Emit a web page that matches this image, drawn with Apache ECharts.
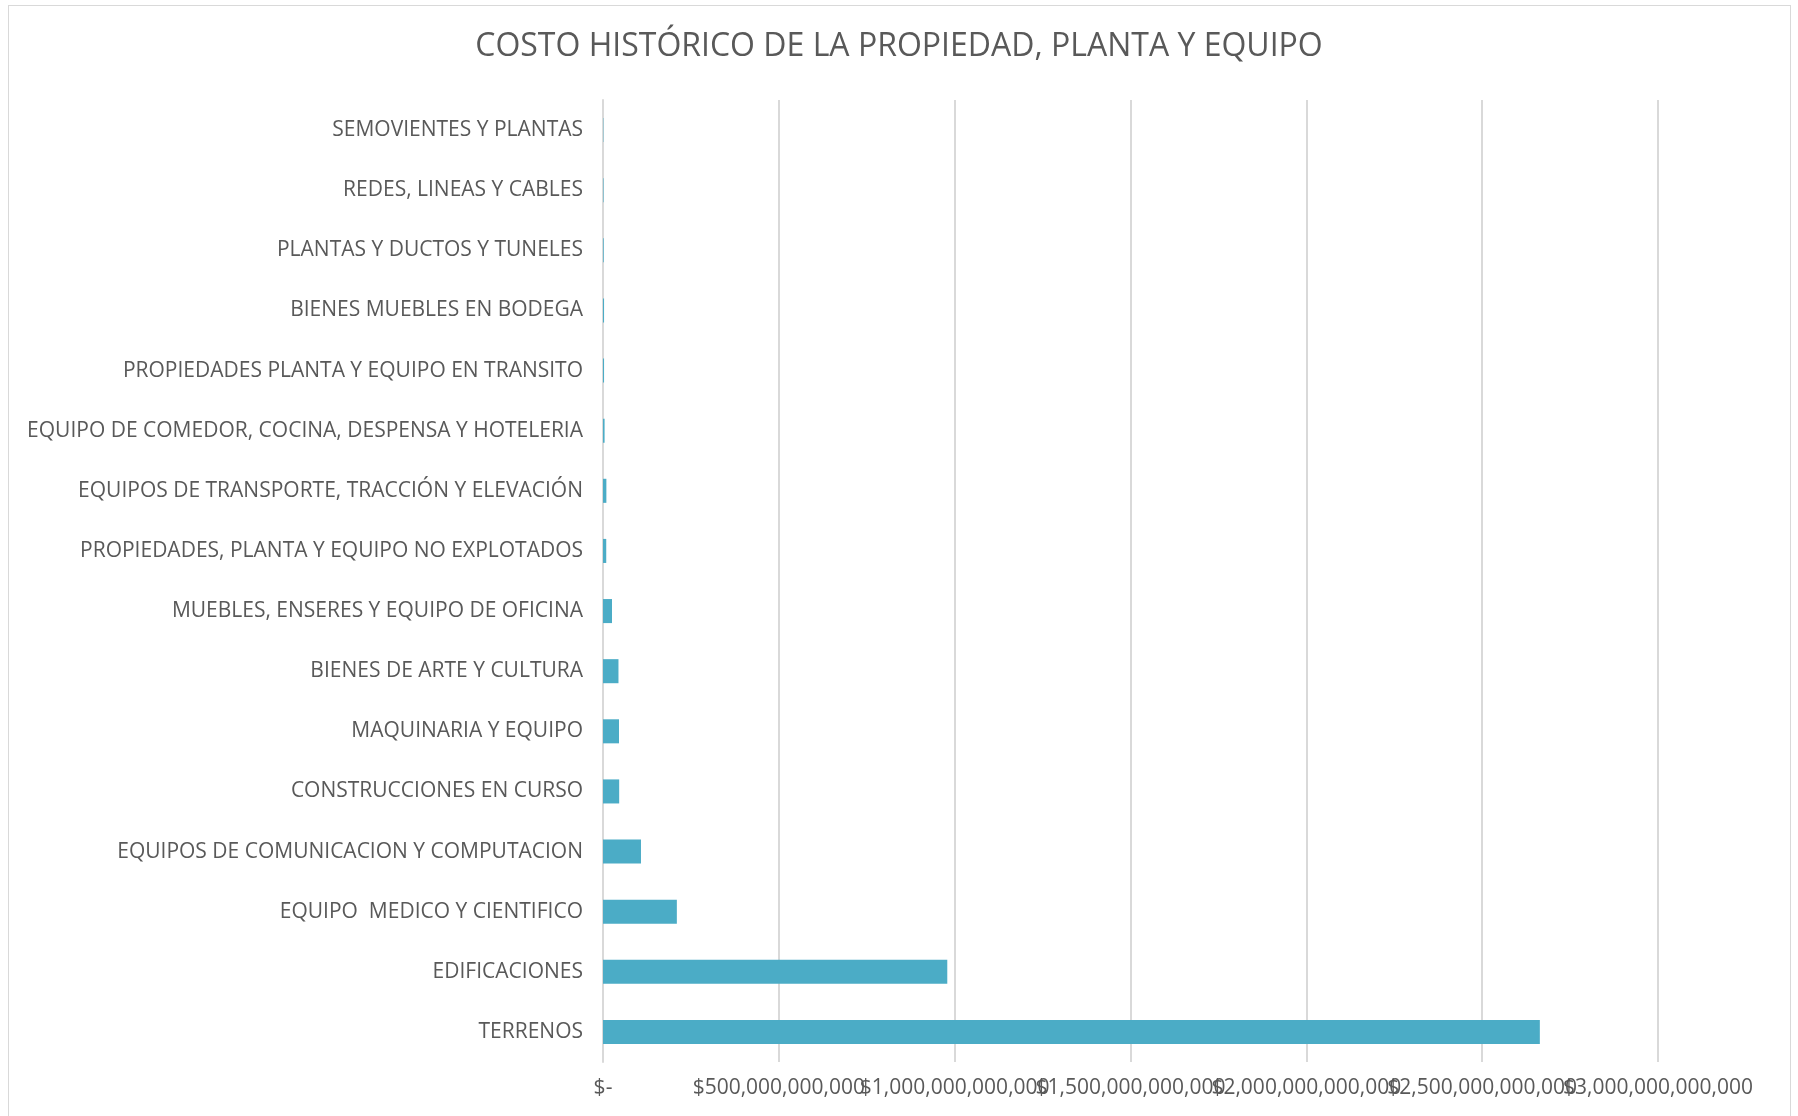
<!DOCTYPE html>
<html>
<head>
<meta charset="utf-8">
<script src="https://cdn.jsdelivr.net/npm/echarts@6/dist/echarts.min.js"></script>
<style>
html,body{margin:0;padding:0;background:#fff;}
#frame{position:absolute;left:8px;top:5px;width:1783px;height:1120px;border:1px solid #d9d9d9;box-sizing:border-box;}
#chart{position:absolute;left:0;top:0;width:1798px;height:1116px;}
</style>
</head>
<body>
<div id="frame"></div>
<div id="chart"></div>
<script>
const title = 'COSTO HISTÓRICO DE LA PROPIEDAD, PLANTA Y EQUIPO';
// bottom-to-top order
const categories = [
  'TERRENOS',
  'EDIFICACIONES',
  'EQUIPO  MEDICO Y CIENTIFICO',
  'EQUIPOS DE COMUNICACION Y COMPUTACION',
  'CONSTRUCCIONES EN CURSO',
  'MAQUINARIA Y EQUIPO',
  'BIENES DE ARTE Y CULTURA',
  'MUEBLES, ENSERES Y EQUIPO DE OFICINA',
  'PROPIEDADES, PLANTA Y EQUIPO NO EXPLOTADOS',
  'EQUIPOS DE TRANSPORTE, TRACCIÓN Y ELEVACIÓN',
  'EQUIPO DE COMEDOR, COCINA, DESPENSA Y HOTELERIA',
  'PROPIEDADES PLANTA Y EQUIPO EN TRANSITO',
  'BIENES MUEBLES EN BODEGA',
  'PLANTAS Y DUCTOS Y TUNELES',
  'REDES, LINEAS Y CABLES',
  'SEMOVIENTES Y PLANTAS'
];
const values = [
  2664e9, 979e9, 210e9, 108e9, 46e9, 45.5e9, 44e9, 25.6e9,
  9.2e9, 9.6e9, 4.5e9, 3e9, 3e9, 2e9, 1.5e9, 1e9
];
const axisMin = 0, axisMax = 3000e9, axisStep = 500e9;

function fmt(v){
  if (v === 0) return '$-';
  return '$' + Math.round(v).toString().replace(/\B(?=(\d{3})+(?!\d))/g, ',');
}

const labelStyle = {fontFamily: 'Open Sans', fontSize: 21, color: '#595959', margin: 16, hideOverlap: false};

const chart = echarts.init(document.getElementById('chart'));
chart.setOption({
  animation: false,
  backgroundColor: 'transparent',
  title: {
    text: title,
    left: 'center',
    top: 26,
    textStyle: {fontFamily: 'Open Sans', fontSize: 32, fontWeight: 'normal', color: '#595959'}
  },
  grid: {left: 603, right: 140, top: 100, bottom: 54, containLabel: false},
  xAxis: [{
    type: 'value', position: 'bottom',
    min: axisMin, max: axisMax, interval: axisStep,
    axisLine: {show: false},
    axisTick: {show: false},
    splitLine: {show: true, lineStyle: {color: '#d9d9d9', width: 2}},
    axisLabel: Object.assign({}, labelStyle, {
      formatter: v => (v === axisMax ? '' : fmt(v)),
      showMinLabel: true, showMaxLabel: false
    })
  }, {
    type: 'value', position: 'bottom',
    min: axisMin, max: axisMax, interval: axisStep,
    axisLine: {show: false},
    axisTick: {show: false},
    splitLine: {show: false},
    axisLabel: Object.assign({}, labelStyle, {
      formatter: v => (v === axisMax ? fmt(v) : ''),
      showMinLabel: false, showMaxLabel: true
    })
  }],
  yAxis: {
    type: 'category',
    data: categories,
    axisLine: {show: true, lineStyle: {color: '#d9d9d9', width: 2}},
    axisTick: {show: false},
    axisLabel: {fontFamily: 'Open Sans', fontSize: 21, color: '#595959', margin: 20}
  },
  series: [{
    type: 'bar',
    xAxisIndex: 0,
    data: values,
    barCategoryGap: '60%',
    itemStyle: {color: '#4BACC6'}
  }]
});
</script>
</body>
</html>
